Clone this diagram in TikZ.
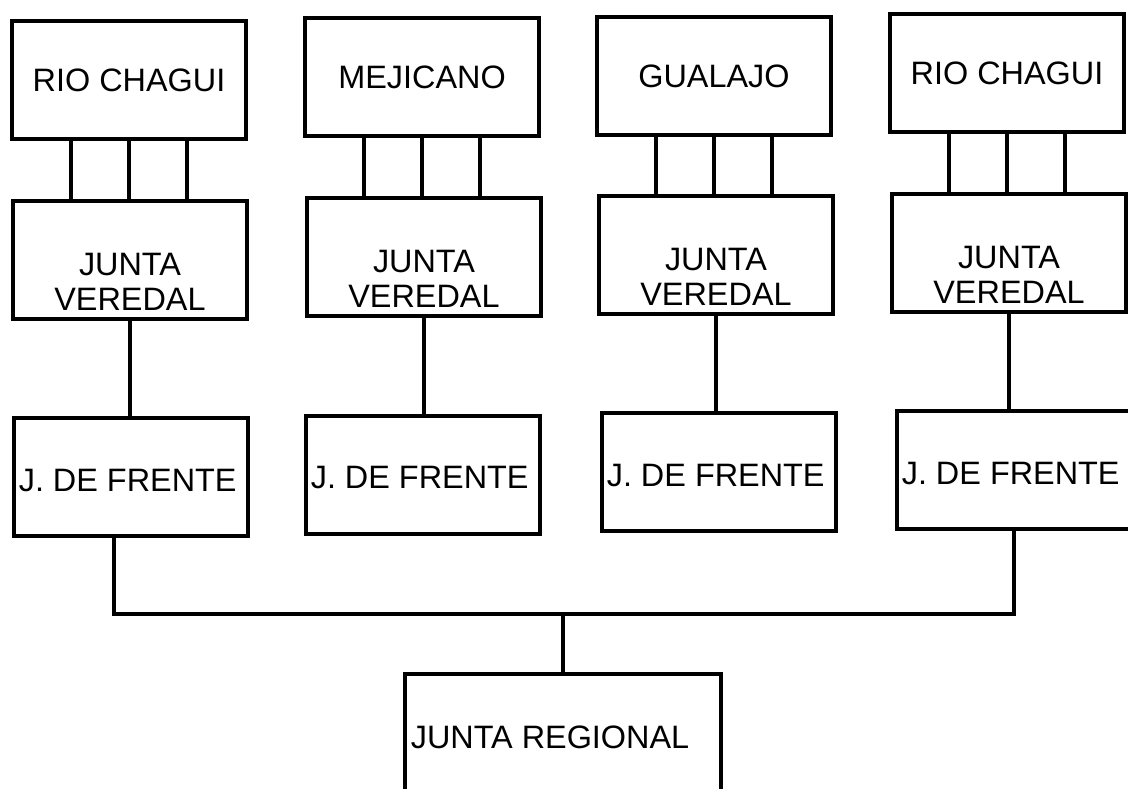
\documentclass[tikz,border=0pt]{standalone}
\usepackage{fontspec}
\setmainfont{Liberation Sans}
\begin{document}
\begin{tikzpicture}[x=0.5pt,y=-0.5pt]
    \tikzstyle{unit}=[draw=black,line width=1.6pt,minimum width=117pt,minimum height=59pt,inner sep=0pt]
    \tikzstyle{link}=[draw=black,line width=1.6pt]
    \tikzstyle{lbl}=[font=\fontsize{16.2}{17.5}\selectfont,align=center,inner sep=0pt]

    \useasboundingbox (0,0) rectangle (1128,788);

    % veredas
    \node[unit,lbl] at (129,80) (r1) {RIO CHAGUI};
    \node[unit,lbl] at (422,77) (r2) {MEJICANO};
    \node[unit,lbl] at (714,76) (r3) {GUALAJO};
    \node[unit,lbl] at (1007,73) (r4) {RIO CHAGUI};

    % juntas veredales
    \node[unit] at (130,260) (v1) {};
    \node[unit] at (424,257) (v2) {};
    \node[unit] at (716,255) (v3) {};
    \node[unit] at (1009,253) (v4) {};
    \foreach \i in {1,...,4}
        \node[lbl] at ([yshift=-11pt]v\i.center) (v\i t) {JUNTA\\VEREDAL};

    % juntas de frente
    \node[unit] at (131,477) (f1) {};
    \node[unit] at (423,475) (f2) {};
    \node[unit] at (719,472) (f3) {};
    \node[unit] at (1014,470) (f4) {};
    \foreach \i in {1,...,4}
        \node[lbl,anchor=west] at ([xshift=3pt,yshift=-1.5pt]f\i.west) (f\i t) {J. DE FRENTE};

    % junta regional
    \node[unit,minimum width=158pt,minimum height=63pt] at (563,737) (reg) {};
    \node[lbl,anchor=west] at ([xshift=3.5pt]reg.west) (regt) {JUNTA REGIONAL};

    \foreach \i in {1,...,4} {
        \foreach \d in {-29pt,0pt,29pt}
            \draw[link] ([xshift=\d]r\i.south) -- ([xshift=\d]r\i.south |- v\i.north);
        \draw[link] (v\i.south) -- (v\i.south |- f\i.north);
    }

    \coordinate (bus) at (563,614);
    \draw[link] ([xshift=-8.5pt]f1.south) |- (bus) -| (f4.south);
    \draw[link] (bus) -- (reg.north);
\end{tikzpicture}
\end{document}
